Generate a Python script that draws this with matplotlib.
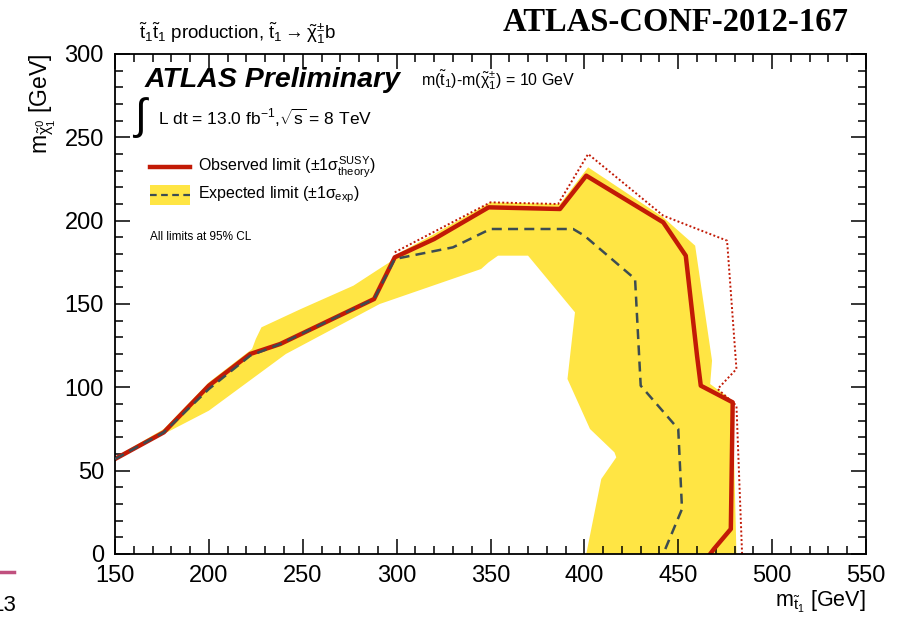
import numpy as np
import matplotlib
matplotlib.use("Agg")
import matplotlib.pyplot as plt
from matplotlib.ticker import MultipleLocator
from matplotlib.patches import Rectangle
from matplotlib.lines import Line2D

plt.rcParams["font.family"] = ["Liberation Sans", "DejaVu Sans"]
plt.rcParams["mathtext.fontset"] = "custom"
plt.rcParams["mathtext.rm"] = "Liberation Sans"
plt.rcParams["mathtext.it"] = "Liberation Sans"
plt.rcParams["mathtext.sf"] = "Liberation Sans"

# observed limit
obs_x = [150, 176, 200, 222, 238, 288, 299, 320, 349, 387, 401, 442, 454, 460, 462, 479, 478, 469, 467]
obs_y = [57, 73, 101, 120, 126, 153, 178, 189, 208, 207, 227, 199, 179, 119, 101, 91, 15, 3, 0]

# observed +1 sigma theory
obs_up_x = [299, 350, 386, 402, 442, 476, 481, 471, 481, 484]
obs_up_y = [181, 211, 210, 240, 203, 188, 111, 99, 89, 0]

# expected limit
exp_x = [150, 176, 200, 222, 238, 288, 299, 330, 350, 394, 400, 427, 430, 450, 452, 442]
exp_y = [57, 73, 99, 119, 126, 153, 177, 184, 195, 195, 191, 165, 101, 75, 27, 0]

# expected +-1 sigma band (upper edge, then lower edge back)
band_hi_x = [150, 176, 200, 223, 225, 228, 249, 277, 292, 299, 302, 320, 350, 387, 402, 442, 459, 468, 467, 479, 481]
band_hi_y = [58, 75, 103, 123, 129, 136, 147, 161, 172, 177, 181, 192, 211, 210, 232, 202, 185, 116, 102, 92, 0]
band_lo_x = [401, 409, 417, 416, 403, 391, 395, 370, 354, 349, 345, 291, 241, 200, 176, 150]
band_lo_y = [0, 45, 58, 61, 75, 105, 145, 179, 179, 175, 171, 150, 120, 86, 72, 56]

x_ticks = [150, 200, 250, 300, 350, 400, 450, 500, 550]
y_ticks = [0, 50, 100, 150, 200, 250, 300]

red = "#c21a06"
yellow = "#ffe544"
slate = "#3c4c52"

fig = plt.figure(figsize=(9.06, 6.18), dpi=100)
ax = fig.add_axes([115 / 906, 1 - 554 / 618, 751 / 906, 500 / 618])

band_x = band_hi_x + band_lo_x
band_y = band_hi_y + band_lo_y
ax.fill(band_x, band_y, color=yellow, lw=0, zorder=1)
ax.plot(exp_x, exp_y, color=slate, lw=1.8, ls=(0, (4, 2.5)), zorder=3)
ax.plot(obs_x, obs_y, color=red, lw=3.2, solid_joinstyle="round", zorder=2)
ax.plot(obs_up_x, obs_up_y, color=red, lw=1.4, ls=(0, (1, 1.2)), zorder=2)

ax.set_xlim(150, 550)
ax.set_ylim(0, 300)
ax.set_xticks(x_ticks)
ax.set_yticks(y_ticks)
ax.xaxis.set_minor_locator(MultipleLocator(10))
ax.yaxis.set_minor_locator(MultipleLocator(10))
ax.tick_params(which="both", direction="in", top=True, right=True, labelsize=17, width=1.1)
ax.tick_params(which="major", length=11)
ax.tick_params(axis="y", which="major", pad=8)
ax.tick_params(axis="x", which="major", pad=8)
ax.tick_params(which="minor", length=6)
for s in ax.spines.values():
    s.set_linewidth(1.3)

ax.set_xlabel(r"m$_{\tilde{t}_1}$ [GeV]", loc="right", fontsize=15.5, labelpad=1)
ax.set_ylabel(r"m$_{\tilde{\chi}^0_1}$ [GeV]", loc="top", fontsize=16.5, labelpad=5)

# texts on the plot
ax.text(0.04, 0.948, "ATLAS Preliminary", transform=ax.transAxes, fontsize=20.5,
        fontweight="bold", fontstyle="italic", va="center")
ax.text(0.408, 0.948, r"m($\tilde{t}_1$)-m($\tilde{\chi}^{\pm}_1$) = 10 GeV",
        transform=ax.transAxes, fontsize=11.5, va="center")
ax.text(0.022, 0.872, r"$\int$", transform=ax.transAxes, fontsize=31, va="center")
ax.text(0.057, 0.872, r"L dt = 13.0 fb$^{-1}$,$\sqrt{\rm s}$ = 8 TeV",
        transform=ax.transAxes, fontsize=12.5, va="center")

# legend
ax.add_line(Line2D([0.046, 0.1], [0.774, 0.774], transform=ax.transAxes, color=red, lw=3.2))
ax.text(0.11, 0.774, r"Observed limit ($\pm$1$\sigma^{\rm SUSY}_{\rm theory}$)",
        transform=ax.transAxes, fontsize=11.5, va="center")
ax.add_patch(Rectangle((0.046, 0.698), 0.054, 0.04, transform=ax.transAxes,
                       color=yellow, lw=0))
ax.add_line(Line2D([0.046, 0.1], [0.718, 0.718], transform=ax.transAxes, color=slate,
                   lw=1.6, ls=(0, (3, 2))))
ax.text(0.11, 0.718, r"Expected limit ($\pm$1$\sigma_{\rm exp}$)",
        transform=ax.transAxes, fontsize=11.5, va="center")
ax.text(0.046, 0.634, "All limits at 95% CL", transform=ax.transAxes, fontsize=8.5,
        va="center")

# header
fig.text(0.153, 0.947, r"$\tilde{t}_1\tilde{t}_1$ production, $\tilde{t}_1\rightarrow\tilde{\chi}^{\pm}_1$b",
         fontsize=13.5, va="center")
fig.text(0.937, 0.963, "ATLAS-CONF-2012-167", fontsize=23.5, fontweight="bold",
         family="Liberation Serif", ha="right", va="center")

# slide remnants at left edge
fig.add_artist(Line2D([0, 0.016], [0.074, 0.074], color="#c0507e", lw=2.5))
fig.text(-0.01, 0.02, "13", fontsize=16, va="center")

fig.savefig("out.png", dpi=100)
